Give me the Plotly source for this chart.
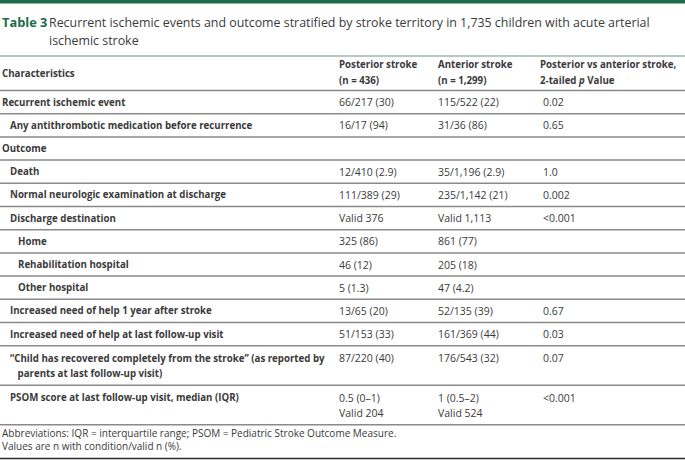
import plotly.graph_objects as go

W, H = 685, 461

title_label = "Table 3"
title_text = ["Recurrent ischemic events and outcome stratified by stroke territory in 1,735 children with acute arterial",
              "ischemic stroke"]

col_headers = ["Characteristics",
               "Posterior stroke<br>(n = 436)",
               "Anterior stroke<br>(n = 1,299)",
               "Posterior vs anterior stroke,<br>2-tailed <i>p</i> Value"]

characteristics = [
    "Recurrent ischemic event",
    "Any antithrombotic medication before recurrence",
    "Outcome",
    "Death",
    "Normal neurologic examination at discharge",
    "Discharge destination",
    "Home",
    "Rehabilitation hospital",
    "Other hospital",
    "Increased need of help 1 year after stroke",
    "Increased need of help at last follow-up visit",
    "“Child has recovered completely from the stroke” (as reported by<br>   parents at last follow-up visit)",
    "PSOM score at last follow-up visit, median (IQR)",
]
indent = [0, 1, 0, 1, 1, 1, 2, 2, 2, 1, 1, 1, 1]
n_lines = [1, 1, 1, 1, 1, 1, 1, 1, 1, 1, 1, 2, 2]

posterior = ["66/217 (30)", "16/17 (94)", "", "12/410 (2.9)", "111/389 (29)", "Valid 376",
             "325 (86)", "46 (12)", "5 (1.3)", "13/65 (20)", "51/153 (33)", "87/220 (40)",
             "0.5 (0–1)<br>Valid 204"]
anterior = ["115/522 (22)", "31/36 (86)", "", "35/1,196 (2.9)", "235/1,142 (21)", "Valid 1,113",
            "861 (77)", "205 (18)", "47 (4.2)", "52/135 (39)", "161/369 (44)", "176/543 (32)",
            "1 (0.5–2)<br>Valid 524"]
p_values = ["0.02", "0.65", "", "1.0", "0.002", "<0.001", "", "", "", "0.67", "0.03", "0.07", "<0.001"]

footnotes = ["Abbreviations: IQR = interquartile range; PSOM = Pediatric Stroke Outcome Measure.",
             "Values are n with condition/valid n (%)."]

# layout constants
GREEN = "#1b6b4c"
TEXT = "#3a3a3a"
FONT = "Open Sans"
FS = 10.5
FSB = 9.7
col_x = [0, 337, 436, 541]
indent_px = 8
header_line_y = 90.5
row_h1 = 23.2
row_h2 = 39.5
line_gap = 15.5

fig = go.Figure()
shapes = []
ann = []

def add_text(x, y, text, size=FS, color=TEXT, yanchor="middle", family=FONT, weight=400):
    ann.append(dict(x=x, y=y, xref="x", yref="y", text=text, showarrow=False,
                    xanchor="left", yanchor=yanchor, align="left",
                    font=dict(family=family, size=size, color=color, weight=weight)))

def add_multiline(x, y0, text, gap=line_gap, **kw):
    for k, part in enumerate(text.split("<br>")):
        add_text(x, y0 + k * gap, part, **kw)

def hline(y, color="#8a8a8a", width=1.5, x0=0, x1=W):
    shapes.append(dict(type="line", xref="x", yref="y", x0=x0, x1=x1, y0=y, y1=y,
                       line=dict(color=color, width=width)))

# top green bar
shapes.append(dict(type="rect", xref="x", yref="y", x0=0, x1=W, y0=0, y1=3.5,
                   fillcolor=GREEN, line=dict(width=0)))

# title
add_text(0, 22, title_label, size=12.8, color=GREEN, weight=700)
add_text(47, 22, title_text[0], size=12.4, color=TEXT)
add_text(47, 40, title_text[1], size=12.4, color=TEXT)
hline(56, color="#9fb8ac", width=1.5)

# header
add_text(col_x[0], 73, col_headers[0], size=FSB, weight=700)
for i in range(1, 4):
    add_multiline(col_x[i] - (3 if i == 3 else 0), 64.5, col_headers[i], size=FSB, weight=700)
hline(header_line_y)

# rows
y = header_line_y
for i, lab in enumerate(characteristics):
    h = row_h1 if n_lines[i] == 1 else row_h2
    top = y
    if n_lines[i] == 1:
        cy = top + h / 2
        add_text(col_x[0] + indent[i] * indent_px, cy, lab, size=FSB, weight=700)
        add_text(col_x[1], cy, posterior[i])
        add_text(col_x[2], cy, anterior[i])
        add_text(col_x[3], cy, p_values[i])
    else:
        ty = top + 12.6
        add_multiline(col_x[0] + indent[i] * indent_px, ty, lab, size=FSB, weight=700)
        add_multiline(col_x[1], ty, posterior[i])
        add_multiline(col_x[2], ty, anterior[i])
        add_multiline(col_x[3], ty, p_values[i])
    y = top + h
    hline(y)

# footnotes
add_text(0, 433, footnotes[0], size=10)
add_text(0, 446, footnotes[1], size=10)
hline(458.5, color="#2a2a2a", width=1.5)

fig.update_layout(
    width=W, height=H, margin=dict(l=0, r=0, t=0, b=0),
    paper_bgcolor="white", plot_bgcolor="white",
    xaxis=dict(range=[0, W], visible=False, fixedrange=True),
    yaxis=dict(range=[H, 0], visible=False, fixedrange=True),
    shapes=shapes, annotations=ann, showlegend=False,
)
fig.write_html("out.html", config={"displayModeBar": False},
               post_script="document.body.style.margin='0';document.body.style.padding='0';")
